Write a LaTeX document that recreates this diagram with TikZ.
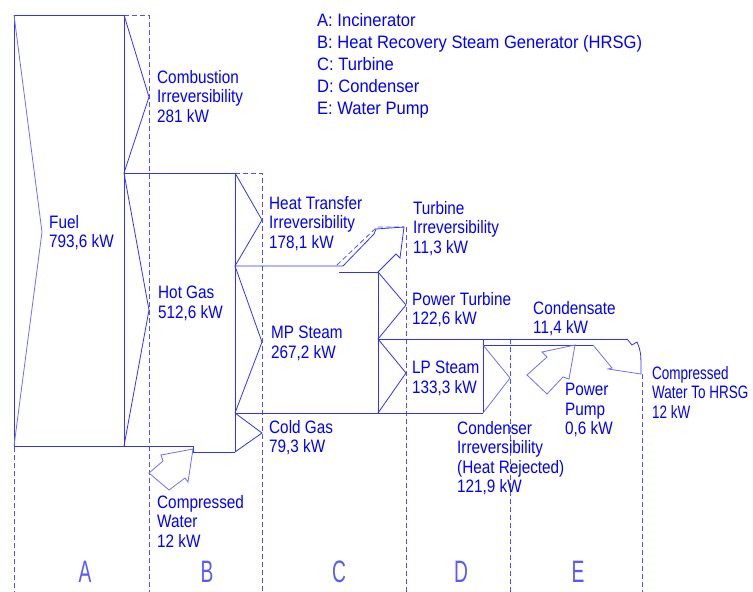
\documentclass[tikz,border=0pt]{standalone}
\usepackage{fontspec}
\setmainfont{Liberation Sans}[FakeStretch=0.85]
\newfontfamily\letterfont{Liberation Sans}[FakeStretch=0.62]
\newfontfamily\legendfont{Liberation Sans}[FakeStretch=0.92]
\newfontfamily\narrowfont{Liberation Sans}[FakeStretch=0.75]
\definecolor{lineblue}{RGB}{50,50,255}
\definecolor{lightblue}{RGB}{110,110,255}
\definecolor{dashblue}{RGB}{80,80,255}
\definecolor{textblue}{RGB}{0,0,255}
\definecolor{letblue}{RGB}{90,90,255}
\begin{document}
\begin{tikzpicture}[x=1pt,y=-1pt,
 ln/.style={draw=lineblue,line width=0.8pt},
 lt/.style={draw=lightblue,line width=0.8pt},
 dsh/.style={draw=dashblue,line width=0.8pt,dash pattern=on 5pt off 3pt},
 lbl/.style={text=textblue,font=\fontsize{18}{19.5}\selectfont,align=left,anchor=north west,inner sep=0pt},
 legend/.style={lbl,font=\legendfont\fontsize{18}{22}\selectfont},
 narrowlbl/.style={lbl,font=\narrowfont\fontsize{18}{19.5}\selectfont},
 letter/.style={text=letblue,font=\letterfont\fontsize{31}{31}\selectfont,inner sep=0pt}]
\useasboundingbox (0,0) rectangle (753,592);
% dashed section borders
\draw[dsh] (14,15) -- (14,592);
\draw[dsh] (124,15) -- (149,15) -- (149,592);
\draw[dsh] (235,173) -- (262,173) -- (262,592);
\draw[dsh] (406,227) -- (406,592);
\draw[dsh] (510,339) -- (510,592);
\draw[dsh] (642,374) -- (642,592);
\draw[dsh] (337,265) -- (377,227) -- (404,227);
% A: incinerator
\draw[ln] (14,446) -- (14,15) -- (124,15) -- (124,446);
\draw[ln] (14,446) -- (193,446) -- (193,452) -- (235,452);
\draw[lt] (14,15) -- (42,232) -- (14,446);
\draw[ln] (124,15) -- (149,97) -- (124,173);
% B: HRSG
\draw[ln] (124,173) -- (235,173) -- (235,452);
\draw[ln] (124,173) -- (149,310) -- (124,446);
\draw[ln] (235,173) -- (262,220) -- (235,266) -- (343,266);
\draw[ln] (235,266) -- (262,342) -- (235,413);
\draw[ln] (235,413) -- (262,433) -- (235,452);
\draw[ln] (235,413) -- (483,413);
\draw[lt] (193,449) -- (188,482) -- (185,478) -- (169,490) -- (149,473) -- (163,461) -- (161,455) -- cycle;
% C: turbine
\draw[ln] (339,272) -- (378,272) -- (378,413);
\draw[ln] (343,266) -- (374,234) -- (376,229) -- (404,227) -- (400,258) -- (396,254) -- (378,272);
\draw[ln] (378,272) -- (406,305) -- (378,339);
\draw[ln] (378,339) -- (406,373) -- (378,413);
\draw[ln] (378,339) -- (627,339);
% D: condenser
\draw[ln] (483,339) -- (483,413);
\draw[ln] (483,345) -- (593,345);
\draw[lt] (483,345) -- (510,378) -- (483,413);
% E: water pump
\draw[ln] (627,339) -- (632,345) -- (637,342) .. controls (641,352) .. (641,374);
\draw[lt] (593,345) -- (612,368) -- (608,369) -- (641,374);
\draw[lt] (575,345) -- (542,352) -- (547,357) -- (527,375) -- (547,394) -- (563,377) -- (569,379) -- cycle;
% texts
\node[legend] (tlegend) at (317,13) {A: Incinerator\\B: Heat Recovery Steam Generator (HRSG)\\C: Turbine\\D: Condenser\\E: Water Pump};
\node[lbl] (tcomb) at (157,70) {Combustion\\Irreversibility\\281 kW};
\node[lbl] (tfuel) at (49,215) {Fuel\\793,6 kW};
\node[lbl] (thot) at (158,286) {Hot Gas\\512,6 kW};
\node[lbl] (tht) at (269,196) {Heat Transfer\\Irreversibility\\178,1 kW};
\node[lbl] (tmp) at (271,326) {MP Steam\\267,2 kW};
\node[lbl] (tcold) at (269,420) {Cold Gas\\79,3 kW};
\node[lbl] (tturb) at (413,201) {Turbine\\Irreversibility\\11,3 kW};
\node[lbl] (tpt) at (412,292) {Power Turbine\\122,6 kW};
\node[lbl] (tlp) at (412,361) {LP Steam\\133,3 kW};
\node[lbl] (tcond) at (457,421) {Condenser\\Irreversibility\\(Heat Rejected)\\121,9 kW};
\node[lbl] (tcdst) at (533,301) {Condensate\\11,4 kW};
\node[lbl] (tpump) at (565,383) {Power\\Pump\\0,6 kW};
\node[narrowlbl] (tcwh) at (652,366) {Compressed\\Water To HRSG\\12 kW};
\node[lbl] (tcw) at (157,495) {Compressed\\Water\\12 kW};
\node[letter] (la) at (85,572) {A};
\node[letter] (lb) at (207,572) {B};
\node[letter] (lc) at (339,572) {C};
\node[letter] (ld) at (461,572) {D};
\node[letter] (le) at (578,572) {E};
\end{tikzpicture}
\end{document}
